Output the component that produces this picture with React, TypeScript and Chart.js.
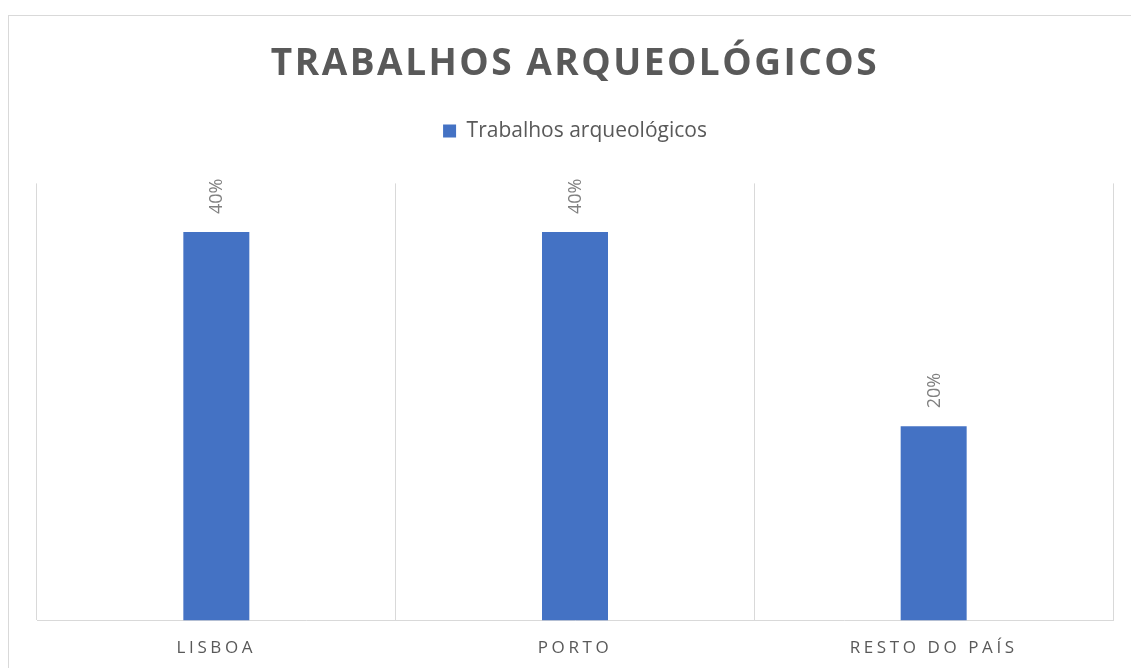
import React, { useEffect, useRef } from "react";
import { Chart, registerables } from "chart.js";

Chart.register(...registerables);

const chartTitle = "TRABALHOS ARQUEOLÓGICOS";
const seriesName = "Trabalhos arqueológicos";
const categories = ["LISBOA", "PORTO", "RESTO DO PAÍS"];
const values = [40, 40, 20];
const yMax = 45;

const FONT = "'Open Sans', 'DejaVu Sans', sans-serif";

const decorPlugin = {
  id: "decor",
  beforeLayout(chart: any) {
    const lg = chart.legend;
    if (lg && !lg._gapWrapped) {
      const f = lg.fit;
      lg.fit = function () {
        f.call(this);
        this.height += 32;
      };
      lg._gapWrapped = true;
    }
    const tb = chart.titleBlock;
    if (tb && !tb._lsWrapped) {
      const d = tb.draw;
      tb.draw = function () {
        const ctx = chart.ctx;
        ctx.save();
        ctx.letterSpacing = "2.5px";
        d.call(this);
        ctx.restore();
      };
      tb._lsWrapped = true;
    }
  },
  afterLayout(chart: any) {
    const sx = chart.scales.x;
    if (sx && !sx._lsWrapped) {
      const d = sx.drawLabels;
      sx.drawLabels = function (area: any) {
        const ctx = chart.ctx;
        ctx.save();
        ctx.letterSpacing = "3.6px";
        d.call(this, area);
        ctx.restore();
      };
      sx._lsWrapped = true;
    }
  },
  beforeDraw(chart: any) {
    const ctx = chart.ctx;
    ctx.save();
    ctx.strokeStyle = "#d9d9d9";
    ctx.lineWidth = 1;
    ctx.strokeRect(8.5, 15.5, 3000, 3000);
    ctx.restore();
  },
  afterDatasetsDraw(chart: any) {
    const ctx = chart.ctx;
    const meta = chart.getDatasetMeta(0);
    ctx.save();
    ctx.fillStyle = "#808080";
    ctx.font = `18px ${FONT}`;
    ctx.textAlign = "left";
    ctx.textBaseline = "middle";
    meta.data.forEach((bar: any, i: number) => {
      ctx.save();
      ctx.translate(bar.x + 1, bar.y - 18);
      ctx.rotate(-Math.PI / 2);
      ctx.fillText(`${values[i]}%`, 0, 0);
      ctx.restore();
    });
    ctx.restore();
  },
};

export default function App() {
  const ref = useRef<HTMLCanvasElement | null>(null);

  useEffect(() => {
    if (!ref.current) return;
    const chart = new Chart(ref.current, {
      type: "bar",
      data: {
        labels: categories,
        datasets: [
          {
            label: seriesName,
            data: values,
            backgroundColor: "#4472C4",
            borderWidth: 0,
            categoryPercentage: 1,
            barPercentage: 0.184,
          },
        ],
      },
      options: {
        animation: false,
        responsive: false,
        layout: { padding: { left: 37, right: 18, top: 24, bottom: -7 } },
        plugins: {
          title: {
            display: true,
            text: chartTitle,
            color: "#595959",
            font: { family: FONT, size: 37, weight: "bold" },
            padding: { top: 18, bottom: 24 },
          },
          legend: {
            display: true,
            position: "top",
            labels: {
              color: "#595959",
              font: { family: FONT, size: 21 },
              boxWidth: 13,
              boxHeight: 13,
              padding: 10,
            },
          },
          tooltip: { enabled: false },
        },
        scales: {
          x: {
            grid: {
              display: true,
              color: "#d9d9d9",
              drawTicks: false,
              offset: true,
            },
            border: { display: true, color: "#d9d9d9" },
            ticks: {
              color: "#595959",
              font: { family: FONT, size: 17 },
              padding: 17,
              maxRotation: 0,
            },
          },
          y: {
            display: false,
            min: 0,
            max: yMax,
          },
        },
      },
      plugins: [decorPlugin],
    });
    return () => chart.destroy();
  }, []);

  return (
    <div style={{ position: "fixed", left: 0, top: 0, width: 1131, height: 668, background: "#fff" }}>
      <canvas ref={ref} width={1131} height={668} style={{ width: 1131, height: 668 }} />
    </div>
  );
}
